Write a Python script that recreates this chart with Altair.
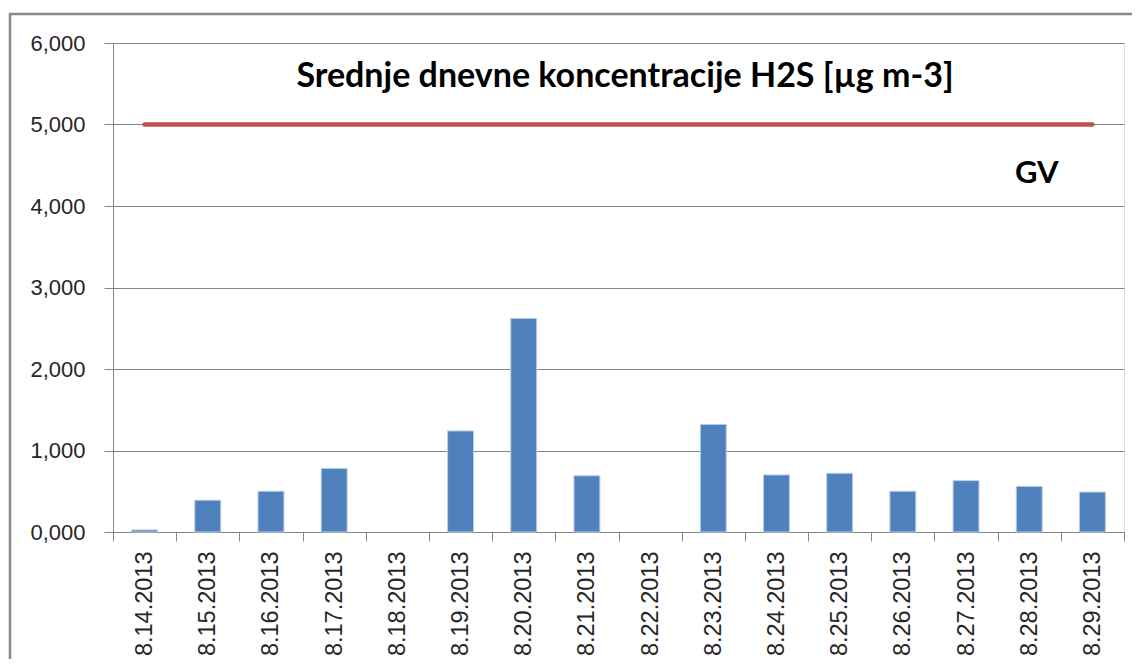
import altair as alt
import pandas as pd

dates = ["8.14.2013", "8.15.2013", "8.16.2013", "8.17.2013", "8.18.2013",
         "8.19.2013", "8.20.2013", "8.21.2013", "8.22.2013", "8.23.2013",
         "8.24.2013", "8.25.2013", "8.26.2013", "8.27.2013", "8.28.2013",
         "8.29.2013"]
values = [0.025, 0.39, 0.50, 0.78, 0.0, 1.24, 2.62, 0.69, 0.0, 1.32,
          0.70, 0.72, 0.50, 0.63, 0.56, 0.49]
gv_values = [5.0] * len(dates)
y_ticks = [0, 1, 2, 3, 4, 5, 6]
title_text = "Srednje dnevne koncentracije H2S [µg m-3]"
gv_label = "GV"

W, H = 1011, 489

df = pd.DataFrame({"date": dates, "value": values, "gv": gv_values})

xenc = alt.X("date:N", sort=dates, title=None,
             scale=alt.Scale(paddingInner=0, paddingOuter=0),
             axis=alt.Axis(labelAngle=270, labelAlign="right", labelBaseline="middle",
                           labelPadding=10, tickSize=9, tickBand="extent",
                           tickColor="#868686", domainColor="#868686",
                           labelFont="Liberation Sans", labelFontSize=23.5,
                           labelColor="#262626", grid=False))
yscale = alt.Scale(domain=[0, 6], nice=False)

bars = alt.Chart(df).mark_bar(
    width=alt.RelativeBandSize(0.41), color="#4F81BD",
    stroke="#B9CDE5", strokeWidth=1
).encode(
    x=xenc,
    y=alt.Y("value:Q", scale=yscale, title=None,
            axis=alt.Axis(values=y_ticks, tickSize=9, labelPadding=19,
                          labelExpr="replace(format(datum.value, '.3f'), '.', ',')",
                          labelFont="Liberation Sans", labelFontSize=22,
                          labelColor="#262626", tickColor="#868686",
                          domainColor="#868686", gridColor="#868686",
                          gridWidth=1, grid=True)),
    strokeOpacity=alt.condition("datum.value > 0", alt.value(1), alt.value(0))
)

line = alt.Chart(df).mark_line(color="#C0504D", strokeWidth=4.5, strokeCap="round").encode(
    x=alt.X("date:N", sort=dates),
    y=alt.Y("gv:Q", scale=yscale)
)

tdf = pd.DataFrame({"t": [title_text]})
title = alt.Chart(tdf).mark_text(
    font="Lato", fontSize=34, fontWeight="bold", color="#000000",
    align="center", baseline="alphabetic"
).encode(x=alt.value(512), y=alt.value(44), text="t:N")

gdf = pd.DataFrame({"t": [gv_label]})
gv = alt.Chart(gdf).mark_text(
    font="Lato", fontSize=31, fontWeight="bold", color="#000000",
    align="left", baseline="alphabetic"
).encode(x=alt.value(902), y=alt.value(140), text="t:N")

bdf = pd.DataFrame({"k": [1]})
border = alt.Chart(bdf).mark_rect(
    fillOpacity=0, stroke="#898989", strokeWidth=2.5, clip=False
).encode(x=alt.value(-103), x2=alt.value(W + 60), y=alt.value(-29), y2=alt.value(H + 200))

chart = alt.layer(border, bars, line, title, gv).properties(
    width=W, height=H,
    autosize=alt.AutoSizeParams(type="none"),
    padding={"left": 105, "top": 35, "right": 8, "bottom": 127}
).configure_view(stroke=None).configure(background="white")

chart.save("out.html", embed_options={"renderer": "svg", "actions": False})
